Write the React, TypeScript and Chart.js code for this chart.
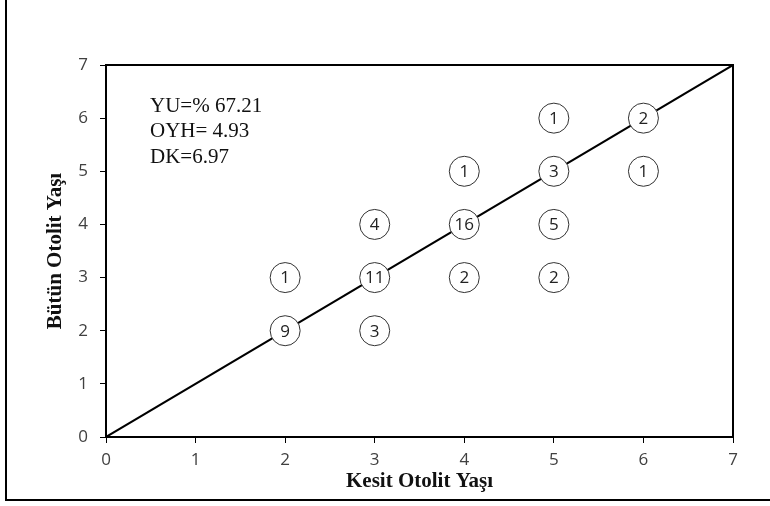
import React, { useEffect, useRef } from "react";
import { Chart, registerables } from "chart.js";

Chart.register(...registerables);

const xValues = [2, 2, 3, 3, 3, 4, 4, 4, 5, 5, 5, 5, 6, 6];
const yValues = [3, 2, 4, 3, 2, 5, 4, 3, 6, 5, 4, 3, 6, 5];
const counts = [1, 9, 4, 11, 3, 1, 16, 2, 1, 3, 5, 2, 2, 1];
const lineX = [0, 7];
const lineY = [0, 7];
const tickValues = [0, 1, 2, 3, 4, 5, 6, 7];
const statLines = ["YU=% 67.21", "OYH= 4.93", "DK=6.97"];
const xTitle = "Kesit Otolit Yaşı";
const yTitle = "Bütün Otolit Yaşı";

const TICK_FONT = "'Open Sans', 'Liberation Sans', 'DejaVu Sans', sans-serif";
const SERIF = "'Liberation Serif', 'DejaVu Serif', serif";

const decorPlugin = {
  id: "decor",
  beforeDraw(chart: any) {
    const ctx = chart.ctx;
    ctx.save();
    ctx.fillStyle = "#fff";
    ctx.fillRect(0, 0, chart.width, chart.height);
    ctx.strokeStyle = "#000";
    ctx.lineWidth = 2;
    ctx.beginPath();
    ctx.moveTo(6, 0);
    ctx.lineTo(6, 500);
    ctx.lineTo(chart.width, 500);
    ctx.stroke();
    ctx.restore();
  },
  afterDatasetsDraw(chart: any) {
    const ctx = chart.ctx;
    const area = chart.chartArea;
    ctx.save();
    ctx.strokeStyle = "#000";
    ctx.lineWidth = 2;
    ctx.strokeRect(area.left, area.top, area.right - area.left, area.bottom - area.top);
    const meta = chart.getDatasetMeta(0);
    ctx.fillStyle = "#222";
    ctx.font = `17px ${TICK_FONT}`;
    ctx.textAlign = "center";
    ctx.textBaseline = "middle";
    meta.data.forEach((el: any, i: number) => {
      ctx.fillText(String(counts[i]), el.x, el.y + 1);
    });
    ctx.font = `21px ${SERIF}`;
    ctx.textAlign = "left";
    ctx.fillStyle = "#111";
    statLines.forEach((t, i) => {
      ctx.fillText(t, area.left + 44, area.top + 41 + i * 25.5);
    });
    ctx.restore();
  },
};

export default function App() {
  const canvasRef = useRef<HTMLCanvasElement | null>(null);

  useEffect(() => {
    document.body.style.margin = "0";
    const canvas = canvasRef.current;
    if (!canvas) return;
    const chart = new Chart(canvas, {
      type: "scatter",
      data: {
        datasets: [
          {
            type: "scatter",
            data: xValues.map((x, i) => ({ x, y: yValues[i] })),
            pointRadius: 15,
            pointHoverRadius: 15,
            backgroundColor: "#fff",
            borderColor: "#333",
            borderWidth: 1,
            order: 0,
          },
          {
            type: "line",
            data: lineX.map((x, i) => ({ x, y: lineY[i] })),
            borderColor: "#000",
            borderWidth: 2,
            pointRadius: 0,
            fill: false,
            order: 1,
          } as any,
        ],
      },
      options: {
        animation: false,
        responsive: false,
        maintainAspectRatio: false,
        layout: { padding: { left: 0, right: 37, top: 65, bottom: 0 } },
        plugins: { legend: { display: false }, tooltip: { enabled: false } },
        scales: {
          x: {
            type: "linear",
            min: 0,
            max: 7,
            afterBuildTicks: (s: any) => {
              s.ticks = tickValues.map((v) => ({ value: v }));
            },
            afterFit: (s: any) => {
              s.height = 69;
            },
            grid: { drawOnChartArea: false, drawTicks: true, tickLength: 6, color: "#000", lineWidth: 1 },
            border: { display: true, color: "#000", width: 2 },
            ticks: { color: "#404040", font: { family: TICK_FONT, size: 17 }, padding: 7 },
            title: {
              display: true,
              text: xTitle,
              color: "#111",
              font: { family: SERIF, size: 21, weight: "bold" },
              padding: { top: 0, bottom: 12 },
            },
          },
          y: {
            type: "linear",
            min: 0,
            max: 7,
            afterBuildTicks: (s: any) => {
              s.ticks = tickValues.map((v) => ({ value: v }));
            },
            afterFit: (s: any) => {
              s.width = 106;
            },
            grid: { drawOnChartArea: false, drawTicks: true, tickLength: 6, color: "#000", lineWidth: 1 },
            border: { display: true, color: "#000", width: 2 },
            ticks: { color: "#404040", font: { family: TICK_FONT, size: 17 }, padding: 12 },
            title: {
              display: true,
              text: yTitle,
              color: "#111",
              font: { family: SERIF, size: 21, weight: "bold" },
              padding: { top: 43, bottom: 0 },
            },
          },
        },
      },
      plugins: [decorPlugin],
    });
    return () => chart.destroy();
  }, []);

  return (
    <div style={{ position: "absolute", left: 0, top: 0, width: 770, height: 506 }}>
      <canvas ref={canvasRef} width={770} height={506} style={{ width: 770, height: 506 }} />
    </div>
  );
}
